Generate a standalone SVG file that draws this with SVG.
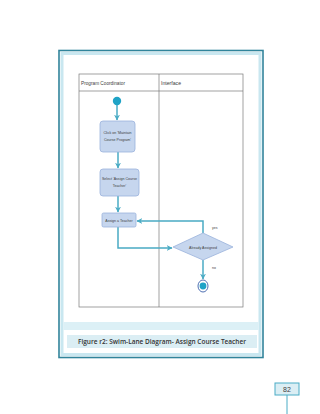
<svg xmlns="http://www.w3.org/2000/svg" width="320" height="414" viewBox="0 0 320 414">
<defs>
<style>
.t{font-family:"Liberation Sans",Arial,sans-serif;fill:#404040}
.node{fill:#c6d6ee;stroke:#9bb3dc;stroke-width:0.8}
.conn{fill:none;stroke:#4aabc4;stroke-width:1.5}
.lane{fill:none;stroke:#7a7a7a;stroke-width:0.7}
</style>
<marker id="ah" viewBox="0 0 10 10" refX="9" refY="5" markerWidth="4" markerHeight="4" orient="auto">
<path d="M0,0 L10,5 L0,10 L3,5 Z" fill="#4aabc4"/>
</marker>
</defs>
<rect width="320" height="414" fill="#ffffff"/>
<g id="frame">
<rect x="59" y="50.5" width="204" height="307" fill="#ffffff" stroke="#31849b" stroke-width="1.6"/>
<rect x="62" y="53.5" width="198" height="301" fill="none" stroke="#c9e7f0" stroke-width="3"/>
<rect x="63.5" y="322" width="195" height="8" fill="#dcf0f6"/>
<rect x="67" y="335" width="190" height="13" fill="#dbeef4"/>
<text x="162" y="344" font-family="'Open Sans','Liberation Sans',sans-serif" font-size="7.2" font-weight="600" text-anchor="middle" fill="#333" textLength="168" lengthAdjust="spacingAndGlyphs">Figure r2: Swim-Lane Diagram- Assign Course Teacher</text>
</g>
<g id="lanes">
<rect class="lane" x="79" y="74" width="164" height="233"/>
<line class="lane" x1="79" y1="91" x2="243" y2="91"/>
<line class="lane" x1="159" y1="74" x2="159" y2="307"/>
<text class="t" x="81" y="85" font-size="5.2" textLength="44" lengthAdjust="spacingAndGlyphs">Program Coordinator</text>
<text class="t" x="161" y="85" font-size="5.2" textLength="20" lengthAdjust="spacingAndGlyphs">Interface</text>
</g>
<g id="connectors">
<line class="conn" x1="117" y1="105" x2="117" y2="120" marker-end="url(#ah)"/>
<line class="conn" x1="118" y1="152" x2="118" y2="168" marker-end="url(#ah)"/>
<line class="conn" x1="118" y1="196" x2="118" y2="212" marker-end="url(#ah)"/>
<polyline class="conn" points="118,227 118,248 172,248" marker-end="url(#ah)"/>
<polyline class="conn" points="203,233 203,221 137,221" marker-end="url(#ah)"/>
<line class="conn" x1="203" y1="260" x2="203" y2="279" marker-end="url(#ah)"/>
<text class="t" x="212" y="229" font-size="3.5">yes</text>
<text class="t" x="212" y="269" font-size="3.5">no</text>
</g>
<g id="start">
<circle cx="117" cy="101" r="4.2" fill="#1fa3c6"/>
</g>
<g id="maintain">
<rect class="node" x="100" y="121" width="35" height="31" rx="3"/>
<text class="t" x="117.5" y="134" font-size="3.6" text-anchor="middle">Click on 'Maintain</text>
<text class="t" x="117.5" y="141" font-size="3.6" text-anchor="middle">Course Program'</text>
</g>
<g id="select">
<rect class="node" x="100" y="169" width="39" height="27" rx="3"/>
<text class="t" x="119.5" y="180" font-size="3.6" text-anchor="middle">Select 'Assign Course</text>
<text class="t" x="119.5" y="187" font-size="3.6" text-anchor="middle">Teacher'</text>
</g>
<g id="assign">
<rect class="node" x="102" y="213" width="34" height="14" rx="1.5"/>
<text class="t" x="119" y="221.5" font-size="3.6" text-anchor="middle">Assign a Teacher</text>
</g>
<g id="decision">
<polygon class="node" points="173,247 203,233 233,247 203,260"/>
<text class="t" x="203" y="248.5" font-size="3.6" text-anchor="middle">Already Assigned</text>
</g>
<g id="end">
<ellipse cx="203" cy="286" rx="5" ry="6" fill="#ffffff" stroke="#3a5fa8" stroke-width="0.9"/>
<circle cx="203" cy="286" r="3.4" fill="#1fa3c6"/>
</g>
<g id="pagenum">
<line x1="287" y1="395" x2="287" y2="414" stroke="#4bacc6" stroke-width="1"/>
<rect x="275" y="383" width="24" height="12" fill="#dbeef4" stroke="#4bacc6" stroke-width="1"/>
<text class="t" x="287" y="392" font-size="7" text-anchor="middle" fill="#4a6a80">82</text>
</g>
</svg>
